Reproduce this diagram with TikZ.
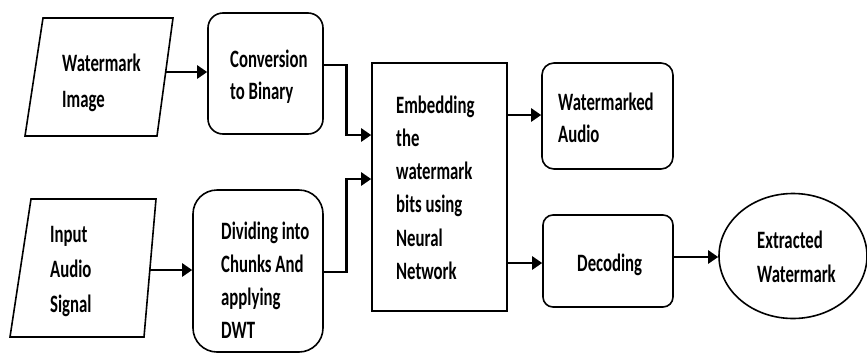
\documentclass[tikz,border=0pt]{standalone}
\usepackage{fontspec}
\setmainfont{Carlito}
\usepackage{graphicx}
\usetikzlibrary{arrows.meta,shapes.geometric,calc}
\newcommand{\lbl}[2]{\scalebox{0.67}[1]{\fontsize{25}{#1}\selectfont\bfseries\begin{tabular}{@{}l@{}}#2\end{tabular}}}
\begin{document}
\begin{tikzpicture}[x=1pt,y=-1pt,
  box/.style={draw=black,line width=1.6pt,minimum width=#1,inner sep=0pt},
  txt/.style={anchor=west,inner sep=0pt},
  arr/.style={line width=2.8pt,-{Triangle[length=10pt,width=13pt]}},
  conn/.style={line width=2.8pt}]
\useasboundingbox[fill=white] (0,0) rectangle (867,354);
% parallelograms
\draw[line width=1.6pt] (43,18) -- (173,18) -- (157,136) -- (25,136) -- cycle;
\coordinate (wmiR) at (165.5,72);
\draw[line width=1.6pt] (31,199) -- (156,199) -- (144,337) -- (10,337) -- cycle;
\coordinate (iasR) at (150,270);
% boxes
\node[box=115pt,minimum height=121pt,rounded corners=15pt] (conv) at (265.5,73.5) {};
\node[box=130pt,minimum height=162pt,rounded corners=24pt] (div) at (258,271) {};
\node[box=135pt,minimum height=248pt] (emb) at (439.5,187) {};
\node[box=131pt,minimum height=106pt,rounded corners=12pt] (wma) at (607.5,116) {};
\node[box=130pt,minimum height=92pt,rounded corners=10pt] (dec) at (608,261) {};
\node[draw=black,line width=1.6pt,ellipse,minimum width=148pt,minimum height=125pt,inner sep=0pt] (ext) at (793,256) {};
% texts
\node[txt] (twmi) at (62,82) {\lbl{36}{Watermark\\Image}};
\node[txt] (tconv) at (230,77.5) {\lbl{32}{Conversion\\to Binary}};
\node[txt] (tias) at (50,270) {\lbl{35}{Input\\Audio\\Signal}};
\node[txt] (tdiv) at (221,282.5) {\lbl{32.7}{Dividing into\\Chunks And\\applying\\DWT}};
\node[txt] (temb) at (396,189.6) {\lbl{33.3}{Embedding\\the\\watermark\\bits using\\Neural\\Network}};
\node[txt] (twma) at (558,120) {\lbl{32}{Watermarked\\Audio}};
\node[txt] (tdec) at (577,265) {\lbl{32}{Decoding}};
\node[txt] (text) at (757,259) {\lbl{34}{Extracted\\Watermark}};
% connectors
\draw[arr] (wmiR) -- (conv.west |- wmiR);
\draw[arr] (iasR) -- (div.west |- iasR);
\draw[arr] ([yshift=8.5pt]conv.east) -| ([xshift=-25pt,yshift=52pt]emb.west) -- ([yshift=52pt]emb.west);
\draw[arr] ([yshift=-1pt]div.east) -| ([xshift=-25pt,yshift=8pt]emb.west) -- ([yshift=8pt]emb.west);
\draw[arr] ([yshift=72pt]emb.east) -- ([yshift=72pt]emb.east -| wma.west);
\draw[arr] ([yshift=-76pt]emb.east) -- ([yshift=-76pt]emb.east -| dec.west);
\draw[arr] ([yshift=4pt]dec.east) -- ([yshift=4pt]dec.east -| ext.west);
\end{tikzpicture}
\end{document}
